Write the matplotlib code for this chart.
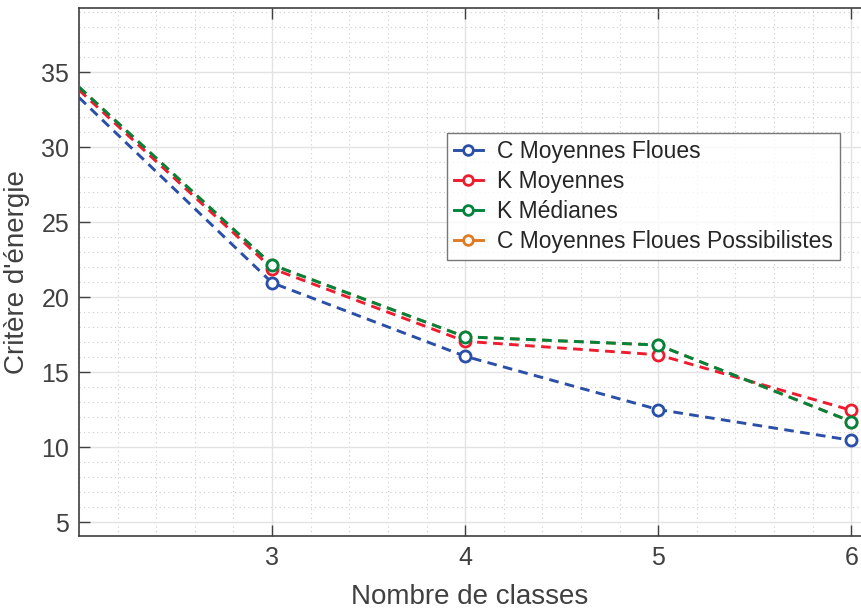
import matplotlib
matplotlib.use("Agg")
import matplotlib.pyplot as plt
from matplotlib.lines import Line2D
from matplotlib.ticker import MultipleLocator

plt.rcParams['font.family'] = ['Liberation Sans', 'DejaVu Sans']

# ---- data ----
n_classes = [2, 3, 4, 5, 6]
fcm = [33.3, 20.95, 16.05, 12.5, 10.45]
kmeans = [33.8, 21.9, 17.05, 16.15, 12.45]
kmedians = [34.0, 22.15, 17.35, 16.8, 11.7]
pfcm = [34.0, 22.15, 17.35, 16.8, 11.7]   # hidden under K Médianes

labels = ["C Moyennes Floues", "K Moyennes", "K Médianes",
          "C Moyennes Floues Possibilistes"]
colors = ["#2A4FA8", "#EE1C2E", "#00843D", "#E07B24"]
series = [fcm, kmeans, kmedians, pfcm]
zorders = [4, 4, 4, 3]

TEXT = "#404040"

fig = plt.figure(figsize=(8.61, 6.13), dpi=100)
ax = fig.add_axes([79 / 861, 1 - 536 / 613, 782 / 861, 528 / 613])

handles = []
for vals, lab, col, z in zip(series, labels, colors, zorders):
    # first point sits on the left edge: no marker shown there
    ax.plot(n_classes, vals, '--o', color=col, lw=2.1, ms=8,
            mfc='white', mew=2.0, zorder=z,
            markevery=[1, 2, 3, 4], dashes=(3.3, 2.2))
    handles.append(Line2D([], [], color=col, lw=2.1, marker='o', ms=7,
                          mfc='white', mew=2.0, label=lab))

ax.set_xlim(2, 6.05)
ax.set_ylim(4.07, 39.27)
ax.set_xticks([3, 4, 5, 6])
ax.set_yticks([5, 10, 15, 20, 25, 30, 35])
ax.xaxis.set_minor_locator(MultipleLocator(0.2))
ax.yaxis.set_minor_locator(MultipleLocator(1))

ax.grid(which='major', color='#e3e3e3', lw=1.0, ls='-')
ax.grid(which='minor', color='#cccccc', lw=0.8, ls=(0, (1, 3)))
ax.set_axisbelow(True)

ax.tick_params(which='major', direction='in', length=8, width=1.0,
               colors=TEXT, labelsize=18, top=True, pad=7)
ax.tick_params(which='minor', length=0)
for side in ['left', 'bottom', 'top']:
    ax.spines[side].set_color(TEXT)
    ax.spines[side].set_linewidth(1.2)
ax.spines['right'].set_visible(False)

ax.set_xlabel("Nombre de classes", fontsize=20, color=TEXT, labelpad=10)
ax.set_ylabel("Critère d'énergie", fontsize=20, color=TEXT, labelpad=8)

leg = ax.legend(handles=handles, loc='upper right',
                bbox_to_anchor=(0.973, 0.763),
                fontsize=16.5, frameon=True, fancybox=False,
                handlelength=1.3, handletextpad=0.6, borderpad=0.3,
                labelspacing=0.3, borderaxespad=0)
leg.get_frame().set_edgecolor('#555555')
leg.get_frame().set_linewidth(1.0)
for t in leg.get_texts():
    t.set_color('#262626')

fig.savefig("out.png", dpi=100)
